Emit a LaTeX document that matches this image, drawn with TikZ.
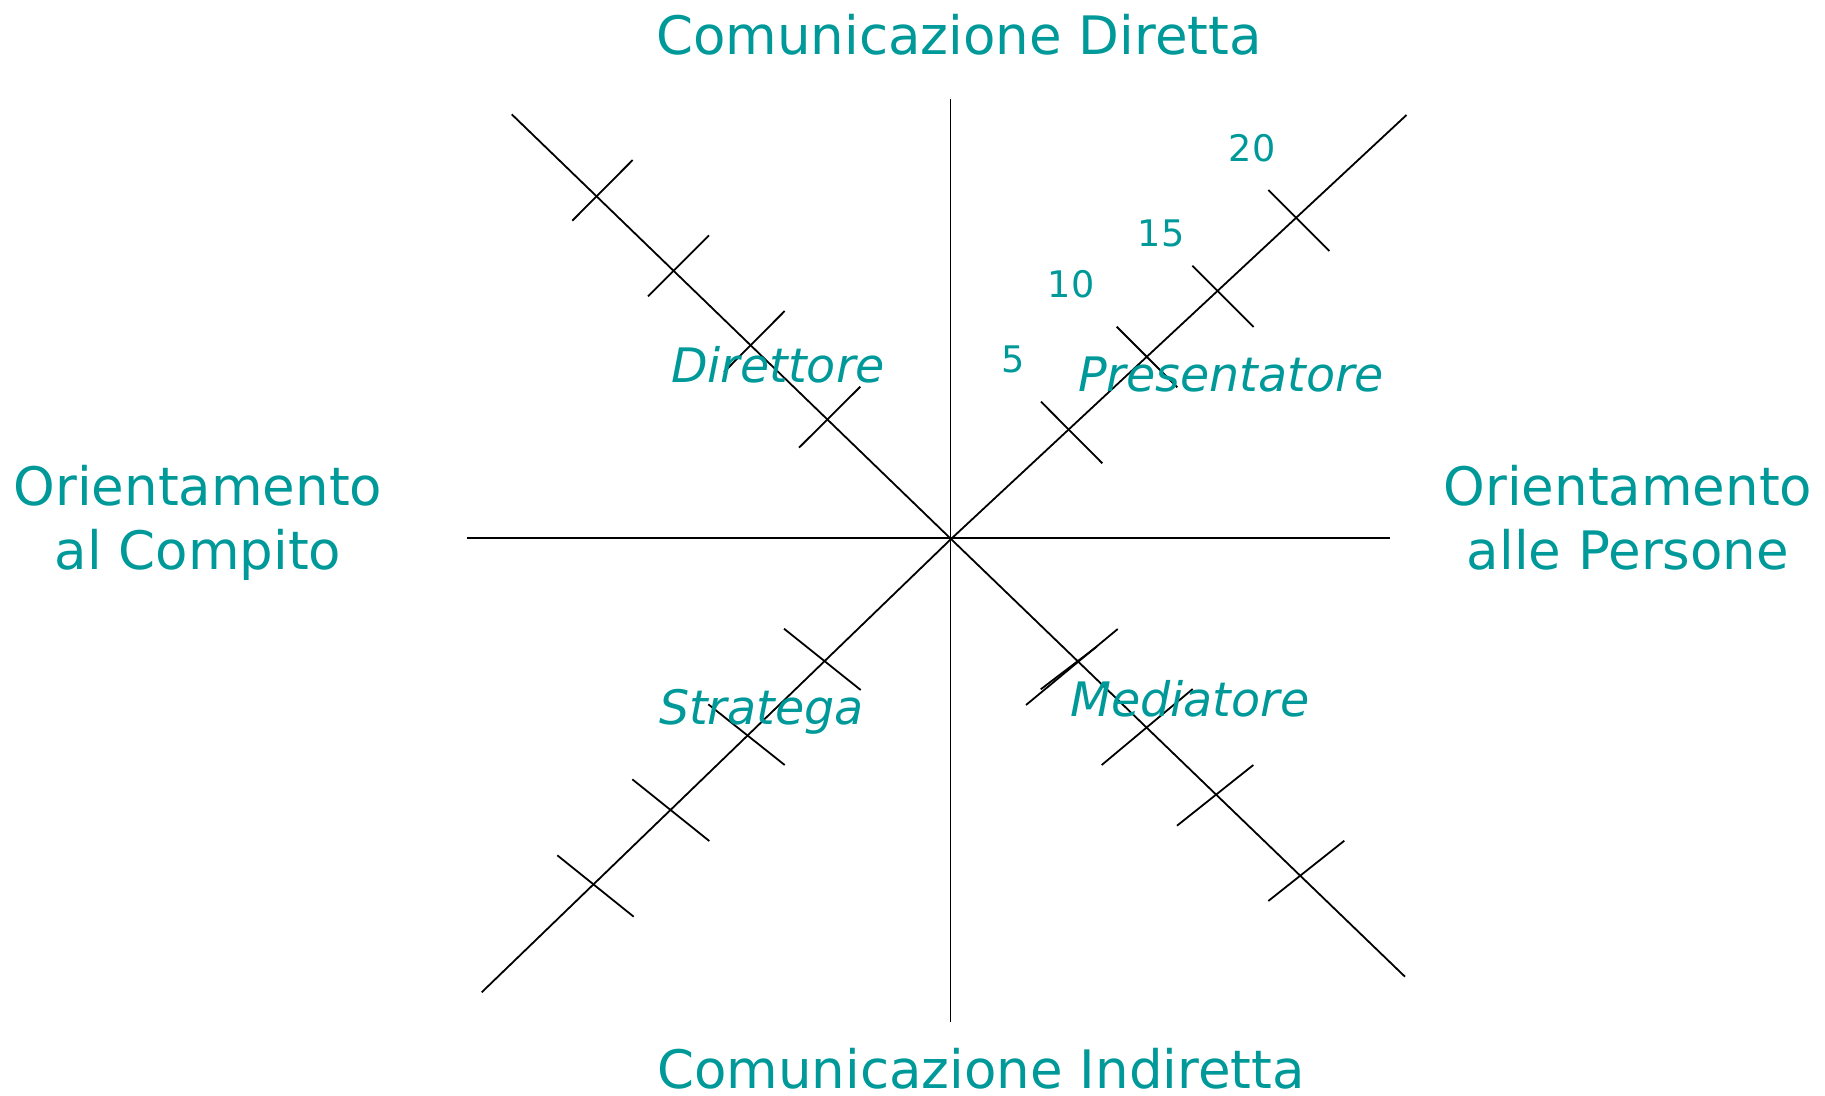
\documentclass[tikz,border=0pt]{standalone}
\usepackage{fontspec}
\setmainfont{DejaVu Sans}
\definecolor{teal1}{RGB}{0,153,153}
\tikzset{
  ax/.style={line width=1.8pt, black, line cap=butt},
  tk/.style={line width=1.8pt, black},
  ttl/.style={inner sep=0pt, anchor=base, text=teal1, font=\fontsize{53}{64}\selectfont},
  nm/.style={inner sep=0pt, anchor=base, text=teal1, font=\fontsize{36.6}{44}\selectfont},
  rl/.style={inner sep=0pt, anchor=base west, text=teal1, font=\fontsize{47.5}{56}\selectfont\itshape},
}
\begin{document}
\begin{tikzpicture}[x=1pt,y=-1pt]
\useasboundingbox (0,0) rectangle (1825,1095);
% axes
\coordinate (O) at (951,539);
\coordinate (hl) at (466.7,538.3);
\coordinate (hr) at (1390,538.3);
\coordinate (vt) at (950.5,99);
\coordinate (vb) at (950.5,1022.3);
\coordinate (nw) at (511.7,114.3);
\coordinate (ne) at (1406.5,115);
\coordinate (se) at (1405,976.7);
\coordinate (sw) at (481.7,992.3);
\draw[ax] (hl) -- (hr);
\draw[ax] (vt) -- (vb);
\draw[ax] (O) -- (nw);
\draw[ax] (O) -- (ne);
\draw[ax] (O) -- (se);
\draw[ax] (O) -- (sw);
% NE ticks
\draw[tk] (1268.3,190) -- (1329.3,251);
\draw[tk] (1192.3,265.7) -- (1253.7,327);
\draw[tk] (1116.7,326.7) -- (1177.3,387.3);
\draw[tk] (1041,401.7) -- (1102.3,463.3);
% NW ticks
\draw[tk] (572.3,220.7) -- (632.7,160);
\draw[tk] (648,296.3) -- (709,235.3);
\draw[tk] (724,372) -- (784.7,311);
\draw[tk] (799,447.7) -- (860.3,386.7);
% SE ticks
\draw[tk] (1026,705) -- (1117.7,629);
\draw[tk] (1040.7,689.3) -- (1096.7,646.7);
\draw[tk] (1101.7,765) -- (1192.7,689);
\draw[tk] (1177,825.7) -- (1253.3,765);
\draw[tk] (1268.3,901) -- (1344.3,840.7);
% SW ticks
\draw[tk] (784,628.7) -- (860.7,690);
\draw[tk] (708.3,704.3) -- (784.7,765);
\draw[tk] (632.3,779.3) -- (709.3,841);
\draw[tk] (557.3,855.3) -- (633.7,916.7);
% titles
\node[ttl] (top) at (959,54.7) {Comunicazione Diretta};
\node[ttl] (bot) at (981,1088) {Comunicazione Indiretta};
\node[ttl] (l1) at (198,505.7) {Orientamento};
\node[ttl] (l2) at (198,569.3) {al Compito};
\node[ttl] (r1) at (1628,505.7) {Orientamento};
\node[ttl] (r2) at (1628,569.3) {alle Persone};
% numbers
\node[nm] (n20) at (1252,161.7) {20};
\node[nm] (n15) at (1161,246.7) {15};
\node[nm] (n10) at (1071,297.3) {10};
\node[nm] (n5) at (1013,372.3) {5};
% roles
\node[rl] (pres) at (1078,391) {Presentatore};
\node[rl] (dir) at (671,382.7) {Direttore};
\node[rl] (str) at (659,724) {Stratega};
\node[rl] (med) at (1070,716) {Mediatore};
\end{tikzpicture}
\end{document}
